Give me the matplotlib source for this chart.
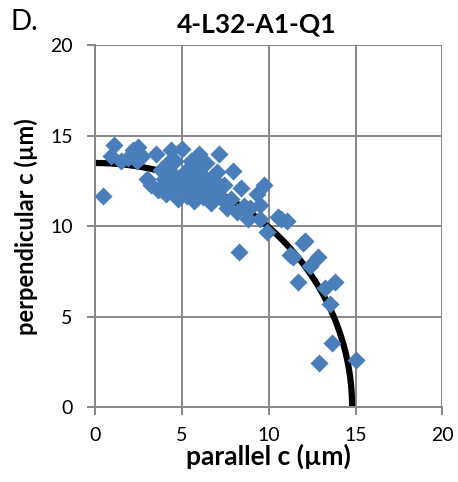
import matplotlib.pyplot as plt
import numpy as np

plt.rcParams['font.family'] = ['Lato', 'DejaVu Sans']

# measured points, parallel c vs perpendicular c (um)
par_c = [0.45, 1.1, 0.9, 1.5, 1.9, 2.2, 2.5, 2.4, 2.7, 3.0, 3.2,
         3.5, 3.8, 4.0, 4.2, 4.4, 4.1, 3.6, 4.5, 4.7, 4.8, 5.0, 5.2,
         5.1, 5.3, 5.5, 5.6, 5.7, 5.9, 5.8, 6.0, 6.1, 6.2, 6.3, 6.4,
         6.6, 6.7, 6.8, 7.0, 7.15, 7.0, 7.3, 7.4, 7.6, 7.8, 7.95, 8.2,
         8.4, 8.6, 8.8, 8.9, 9.5, 9.35, 9.7, 9.5, 8.3, 9.9, 10.55,
         10.7, 11.05, 11.4, 11.2, 12.0, 12.1, 12.85, 12.4, 11.7, 13.8,
         13.25, 13.55, 13.65, 12.9, 15.05,
         4.6, 5.4, 6.5, 4.3, 5.0, 6.9]
perp_c = [11.7, 14.5, 13.9, 13.6, 13.8, 14.2, 14.4, 13.6, 13.9, 12.6, 12.3,
          14.0, 13.1, 12.6, 13.5, 14.2, 11.8, 12.0, 12.9, 12.2, 11.5, 14.3, 13.0,
          12.3, 11.7, 13.6, 12.6, 11.4, 12.0, 13.2, 14.0, 12.9, 11.6, 12.4, 13.5,
          12.1, 11.3, 12.8, 11.9, 14.0, 13.0, 11.5, 12.3, 11.0, 11.5, 13.05, 10.8,
          12.1, 11.1, 10.4, 11.0, 11.2, 11.8, 12.3, 10.4, 8.6, 9.7, 10.5,
          10.4, 10.3, 8.3, 8.4, 9.1, 9.2, 8.3, 7.8, 6.95, 6.95,
          6.6, 5.7, 3.55, 2.45, 2.6,
          13.6, 12.1, 11.9, 12.2, 12.8, 12.5]

# fitted quarter ellipse semi-axes
fit_a = 14.8
fit_b = 13.5

fig = plt.figure(figsize=(4.58, 4.82), dpi=100)
ax = fig.add_axes([0.2074, 0.1548, 0.7587, 0.7512])

t = np.linspace(0, np.pi / 2, 200)
ax.plot(fit_a * np.cos(t), fit_b * np.sin(t), color='black', lw=4.5,
        solid_capstyle='butt', zorder=2)
ax.scatter(par_c, perp_c, marker='D', s=85, color='#4a7ebb', zorder=3,
           linewidths=0)

ax.set_xlim(0, 20)
ax.set_ylim(0, 20)
ax.set_xticks([0, 5, 10, 15, 20])
ax.set_yticks([0, 5, 10, 15, 20])
ax.grid(True, color='#878787', lw=1.4)
ax.set_axisbelow(True)
for side in ['top', 'right']:
    ax.spines[side].set_visible(False)
for side in ['left', 'bottom']:
    ax.spines[side].set_color('#878787')
    ax.spines[side].set_linewidth(1.4)
ax.tick_params(direction='out', length=6, width=1.4, color='#878787',
               labelsize=14)
ax.tick_params(axis='y', pad=10)
ax.tick_params(axis='x', pad=8)

ax.set_xlabel('parallel c (µm)', fontsize=19, fontweight='bold', labelpad=0)
ax.set_ylabel('perpendicular c (µm)', fontsize=17, fontweight='bold', labelpad=9)
ax.set_title('4-L32-A1-Q1', fontsize=19, fontweight='bold', pad=9, x=0.465)
fig.text(0.024, 0.928, 'D.', fontsize=20, va='bottom', ha='left')

fig.savefig('out.png', dpi=100)
